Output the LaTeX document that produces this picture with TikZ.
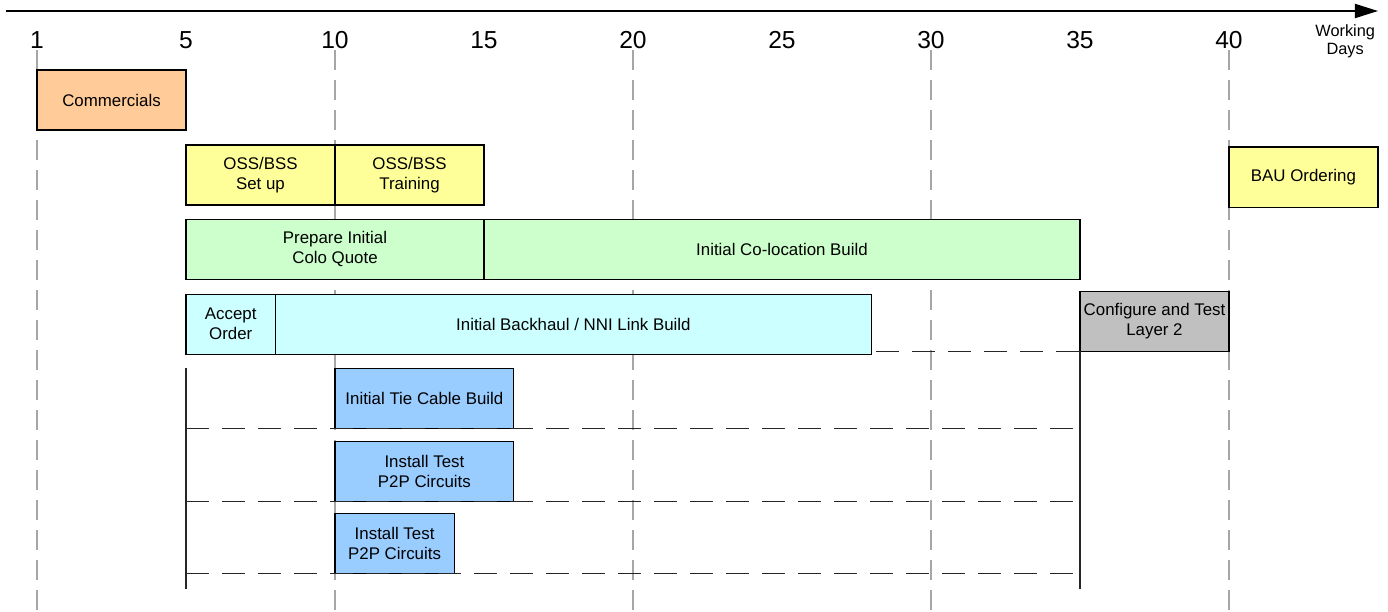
\documentclass[tikz,border=0pt]{standalone}
\usepackage{fontspec}
\setmainfont{Liberation Sans}
\usepackage{tikz}
\usetikzlibrary{arrows.meta,positioning,calc}

\definecolor{commc}{HTML}{FFCC99}
\definecolor{ossc}{HTML}{FFFF99}
\definecolor{coloc}{HTML}{CCFFCC}
\definecolor{linkc}{HTML}{CCFFFF}
\definecolor{layc}{HTML}{C0C0C0}
\definecolor{tiec}{HTML}{99CCFF}
\definecolor{guidec}{HTML}{A6A6A6}

\def\dayw{0.596cm}

\begin{document}
\begin{tikzpicture}[
    x=\dayw, y=-0.02cm,
    task/.style={draw=black,line width=0.6pt,anchor=north west,outer sep=0pt,inner sep=1pt,
      minimum height=1.2cm,align=center,font=\fontsize{9.6}{11.4}\selectfont},
    daylbl/.style={font=\fontsize{14}{16}\selectfont,inner sep=0pt},
    guide/.style={guidec,line width=1.1pt,dash pattern=on 0.4cm off 0.2cm},
    dashline/.style={black!85,line width=0.6pt,dash pattern=on 0.46cm off 0.26cm},
    frame/.style={black!85,line width=0.7pt},
    axis/.style={-{Triangle[length=0.46cm,width=0.28cm]},line width=1.1pt}
  ]
    \useasboundingbox (-1.2416,0) rectangle (45.336,611);
    \draw[axis] (-1.04,11) -- (45.0,11);
    \node[daylbl] (d1) at (0,40) {1};
    \foreach \d in {5,10,...,40}
      \node[daylbl] (d\d) at (\d,40) {\d};
    \node[font=\fontsize{9.3}{10.5}\selectfont,align=center,inner sep=0pt] (unit) at (43.9,41) {Working\\Days};
    \foreach \d in {0,10,...,40}
      \draw[guide] (\d,50) -- (\d,611);

    \node[task,fill=commc,minimum width=5*\dayw] (comm) at (0,70) {Commercials};
    \node[task,fill=ossc,minimum width=5*\dayw] (osssetup) at (5,145) {OSS/BSS\\Set up};
    \node[task,fill=ossc,minimum width=5*\dayw] (osstrain) at (10,145) {OSS/BSS\\Training};
    \node[task,fill=ossc,minimum width=5*\dayw] (bau) at (40,147) {BAU Ordering};
    \node[task,fill=coloc,minimum width=10*\dayw] (coloquote) at (5,219) {Prepare Initial\\Colo Quote};
    \node[task,fill=coloc,minimum width=20*\dayw] (colobuild) at (15,219) {Initial Co-location Build};
    \node[task,fill=linkc,minimum width=3*\dayw] (accept) at (5,294) {Accept\\Order};
    \node[task,fill=linkc,minimum width=20*\dayw] (backhaul) at (8,294) {Initial Backhaul / NNI Link Build};
    \node[task,fill=layc,minimum width=5*\dayw] (layer2) at (35,291) {Configure and Test\\Layer 2};
    \node[task,fill=tiec,minimum width=6*\dayw] (tiecable) at (10,368) {Initial Tie Cable Build};
    \node[task,fill=tiec,minimum width=6*\dayw] (p2pa) at (10,441) {Install Test\\P2P Circuits};
    \node[task,fill=tiec,minimum width=4*\dayw] (p2pb) at (10,513) {Install Test\\P2P Circuits};

    \coordinate (startL) at (5,368);
    \coordinate (endL) at (5,589);
    \coordinate (endR) at (35,589);
    \draw[dashline] ($(layer2.south west -| backhaul.east)+(0.17,0)$) -- (layer2.south west);
    \draw[frame] (startL) -- (endL);
    \draw[frame] (layer2.south west) -- (endR);
    \foreach \t in {tiecable,p2pa,p2pb}
      \draw[dashline] (startL |- \t.south) -- (endR |- \t.south);
  \end{tikzpicture}
\end{document}
